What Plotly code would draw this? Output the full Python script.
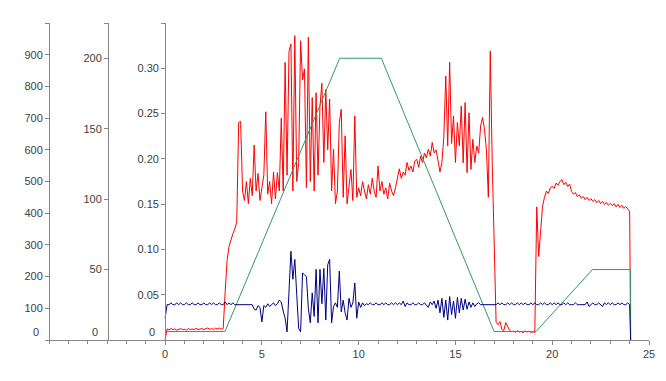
import plotly.graph_objects as go

# ---------------- data ----------------
time = [round(i * 0.1, 1) for i in range(241)] + [24.05]

red_vals = [
    0, 35, 32, 36, 33, 35, 31, 34, 36, 33,
    34, 31, 36, 33, 35, 32, 37, 33, 34, 36,
    33, 35, 38, 34, 36, 33, 37, 35, 38, 34,
    36, 150, 250, 295, 320, 335, 350, 372, 686, 690,
    470, 440, 500, 430, 510, 455, 615, 470, 525, 440,
    480, 520, 720, 460, 500, 430, 530, 445, 528, 470,
    700, 470, 876, 520, 910, 934, 470, 960, 500, 560,
    944, 820, 855, 480, 955, 500, 765, 470, 780, 520,
    738, 810, 560, 790, 600, 760, 470, 602, 430, 470,
    685, 728, 450, 644, 430, 480, 538, 440, 707, 450,
    480, 455, 500, 470, 445, 490, 460, 510, 470, 450,
    549, 470, 500, 460, 480, 445, 495, 470, 455, 480,
    517, 540, 510, 530, 520, 560, 535, 549, 530, 565,
    570, 545, 580, 560, 590, 575, 602, 580, 623, 590,
    600, 560, 530, 560, 640, 833, 612, 876, 620, 707,
    560, 686, 612, 738, 559, 749, 528, 717, 538, 633,
    560, 612, 590, 675, 702, 665, 600, 450, 912, 559,
    300, 56, 48, 58, 33, 30, 55, 44, 30, 26,
    28, 24, 30, 25, 27, 23, 29, 25, 28, 24,
    26, 24, 420, 263, 358, 422, 450, 470, 462, 480,
    485, 478, 495, 488, 500, 506, 490, 498, 484, 492,
    468, 460, 465, 452, 458, 447, 453, 443, 450, 440,
    446, 437, 443, 433, 440, 430, 437, 428, 434, 425,
    431, 424, 430, 420, 428, 418, 425, 415, 421, 412,
    406, 0,
]

blue_vals = [
    0.024, 0.039, 0.039, 0.041, 0.039, 0.039, 0.041, 0.039, 0.041, 0.039,
    0.039, 0.041, 0.039, 0.039, 0.041, 0.039, 0.039, 0.041, 0.039, 0.039,
    0.041, 0.039, 0.039, 0.041, 0.039, 0.041, 0.039, 0.039, 0.041, 0.039,
    0.039, 0.042, 0.039, 0.041, 0.039, 0.041, 0.039, 0.039, 0.039, 0.039,
    0.039, 0.039, 0.039, 0.039, 0.039, 0.039, 0.034, 0.033, 0.038, 0.036,
    0.020, 0.038, 0.036, 0.040, 0.037, 0.039, 0.041, 0.038, 0.040, 0.044,
    0.042, 0.032, 0.024, 0.009, 0.060, 0.098, 0.067, 0.089, 0.050, 0.013,
    0.009, 0.074, 0.072, 0.070, 0.035, 0.019, 0.052, 0.026, 0.078, 0.019,
    0.078, 0.040, 0.079, 0.022, 0.083, 0.089, 0.019, 0.037, 0.041, 0.036,
    0.076, 0.031, 0.044, 0.030, 0.022, 0.046, 0.036, 0.041, 0.063, 0.024,
    0.042, 0.036, 0.041, 0.038, 0.040, 0.039, 0.041, 0.039, 0.039, 0.041,
    0.039, 0.039, 0.041, 0.039, 0.041, 0.039, 0.039, 0.041, 0.039, 0.041,
    0.039, 0.041, 0.039, 0.043, 0.037, 0.041, 0.039, 0.039, 0.041, 0.039,
    0.039, 0.041, 0.039, 0.039, 0.041, 0.039, 0.036, 0.042, 0.039, 0.043,
    0.035, 0.044, 0.030, 0.046, 0.025, 0.044, 0.022, 0.048, 0.028, 0.043,
    0.024, 0.047, 0.030, 0.046, 0.033, 0.045, 0.034, 0.042, 0.036, 0.041,
    0.037, 0.040, 0.041, 0.039, 0.039, 0.039, 0.039, 0.039, 0.039, 0.039,
    0.039, 0.039, 0.041, 0.039, 0.041, 0.039, 0.039, 0.041, 0.039, 0.041,
    0.039, 0.039, 0.041, 0.039, 0.041, 0.039, 0.041, 0.039, 0.039, 0.041,
    0.039, 0.041, 0.039, 0.039, 0.041, 0.039, 0.041, 0.039, 0.039, 0.041,
    0.039, 0.041, 0.039, 0.041, 0.039, 0.039, 0.041, 0.039, 0.041, 0.039,
    0.039, 0.039, 0.041, 0.039, 0.039, 0.039, 0.039, 0.039, 0.042, 0.037,
    0.039, 0.041, 0.039, 0.039, 0.041, 0.039, 0.037, 0.041, 0.039, 0.041,
    0.039, 0.041, 0.039, 0.039, 0.041, 0.039, 0.041, 0.039, 0.039, 0.041,
    0.039, 0,
]

green_time = [0, 3.09, 9.02, 11.17, 17.0, 19.16, 22.08, 24.05, 24.05]
green_vals = [6, 6, 200, 200, 6, 6, 50, 50, 0]

outer_ticks = [0, 100, 200, 300, 400, 500, 600, 700, 800, 900, 1000]
outer_labels = ["", "100", "200", "300", "400", "500", "600", "700", "800", "900", ""]
middle_ticks = [0, 50, 100, 150, 200, 225]
middle_labels = ["", "50", "100", "150", "200", ""]
inner_ticks = [0, 0.05, 0.10, 0.15, 0.20, 0.25, 0.30, 0.35]
inner_labels = ["", "0.05", "0.10", "0.15", "0.20", "0.25", "0.30", ""]
x_ticks = [0, 5, 10, 15, 20, 25]
x_labels = ["0", "5", "10", "15", "20", "25"]
zero_label = "0"

# ---------------- figure ----------------
X_MIN, X_MAX = -6, 25
W, H = 666, 381
ML, MR, MT, MB = 49, 17, 23, 41
plot_w = W - ML - MR
middle_pos = (108 - ML) / plot_w
inner_pos = (0 - X_MIN) / (X_MAX - X_MIN)

AXC = "#868686"
TXC = "#404040"
FONT = dict(family="Liberation Sans, Arial, sans-serif", size=11, color=TXC)

fig = go.Figure()
fig.add_trace(go.Scatter(x=time, y=red_vals, mode="lines", yaxis="y",
                         line=dict(color="#ff0000", width=1), hoverinfo="skip"))
fig.add_trace(go.Scatter(x=green_time, y=green_vals, mode="lines", yaxis="y2",
                         line=dict(color="#339966", width=1), hoverinfo="skip"))
fig.add_trace(go.Scatter(x=time, y=blue_vals, mode="lines", yaxis="y3",
                         line=dict(color="#000080", width=1), hoverinfo="skip"))

common_y = dict(showline=True, linecolor=AXC, linewidth=1, ticks="outside",
                ticklen=4, tickcolor=AXC, showgrid=False, zeroline=False,
                tickfont=FONT, tickmode="array", fixedrange=True,
                automargin=False)

fig.update_layout(
    width=W, height=H,
    margin=dict(l=ML, r=MR, t=MT, b=MB, autoexpand=False),
    paper_bgcolor="white", plot_bgcolor="white",
    showlegend=False,
    font=FONT,
    xaxis=dict(range=[X_MIN, X_MAX], showline=True, linecolor=AXC, linewidth=1,
               ticks="outside", ticklen=4, tickcolor=AXC, showgrid=False,
               zeroline=False, tickmode="array", tickvals=x_ticks,
               ticktext=x_labels, tickfont=FONT, automargin=False,
               fixedrange=True,
               minor=dict(tickmode="linear", tick0=0, dtick=1, ticks="outside",
                          ticklen=3, tickcolor=AXC, showgrid=False)),
    yaxis=dict(range=[0, 1000], tickvals=outer_ticks, ticktext=outer_labels,
               anchor="free", position=0, side="left", **common_y),
    yaxis2=dict(range=[0, 225], tickvals=middle_ticks, ticktext=middle_labels,
                overlaying="y", anchor="free", position=middle_pos, side="left",
                **common_y),
    yaxis3=dict(range=[0, 0.35], tickvals=inner_ticks, ticktext=inner_labels,
                overlaying="y", anchor="free", position=inner_pos, side="left",
                **common_y),
)

for pos in (0, middle_pos, inner_pos):
    fig.add_annotation(text=zero_label, xref="paper", x=pos, yref="y", y=0,
                       xanchor="right", yanchor="middle", xshift=-8, yshift=8,
                       showarrow=False, font=FONT)

fig.write_html("out.html", config={"displayModeBar": False},
               post_script="document.body.style.margin='0px';")
